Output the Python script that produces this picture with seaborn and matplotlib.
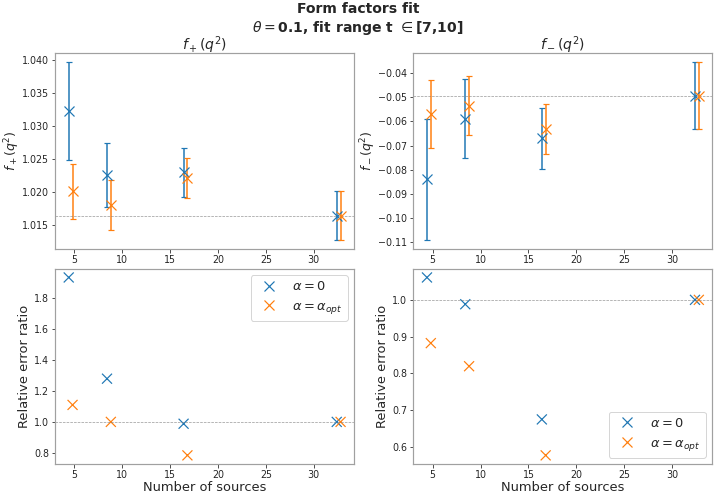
import matplotlib
matplotlib.use("Agg")
import matplotlib.pyplot as plt
from matplotlib.lines import Line2D
import seaborn as sns
import pandas as pd

# number of sources (points are shifted a bit so the two series don't overlap)
n_sources = [4, 8, 16, 32]
shift_a0 = 0.4
shift_opt = 0.8

# f_+(q^2) fit values and errors
fp_a0 = [1.0323, 1.0226, 1.0230, 1.0164]
fp_a0_err = [0.0074, 0.0048, 0.0037, 0.0037]
fp_opt = [1.0201, 1.0180, 1.0221, 1.0164]
fp_opt_err = [0.0042, 0.0038, 0.0030, 0.0037]
fp_ref = 1.01637

# f_-(q^2) fit values and errors
fm_a0 = [-0.0841, -0.0588, -0.0670, -0.0493]
fm_a0_err = [0.0252, 0.0164, 0.0127, 0.0139]
fm_opt = [-0.0569, -0.0534, -0.0632, -0.0493]
fm_opt_err = [0.0140, 0.0123, 0.0103, 0.0139]
fm_ref = -0.0493

# relative error ratios
ratio_fp_a0 = [1.936, 1.280, 0.988, 1.0]
ratio_fp_opt = [1.110, 1.000, 0.783, 1.0]
ratio_fm_a0 = [1.061, 0.988, 0.674, 1.0]
ratio_fm_opt = [0.882, 0.819, 0.576, 1.0]

labels = [r"$\alpha = 0$", r"$\alpha = \alpha_{opt}$"]

sns.set_style("white")
plt.rcParams["font.family"] = ["DejaVu Sans"]
plt.rcParams["mathtext.fontset"] = "dejavusans"

pal = sns.color_palette("tab10")
c_a0, c_opt = pal[0], pal[1]

fig, axes = plt.subplots(2, 2, figsize=(716 / 72, 496 / 72), dpi=72)
fig.subplots_adjust(left=0.077, right=0.995, top=0.8925, bottom=0.064,
                    wspace=0.198, hspace=0.1)

x_a0 = [n + shift_a0 for n in n_sources]
x_opt = [n + shift_opt for n in n_sources]


def top_panel(ax, y0, e0, y1, e1, ref, name):
    ax.errorbar(x_a0, y0, yerr=e0, fmt="x", color=c_a0, ms=10, mew=1.2,
                capsize=3, elinewidth=1.5, capthick=1.2)
    ax.errorbar(x_opt, y1, yerr=e1, fmt="x", color=c_opt, ms=10, mew=1.2,
                capsize=3, elinewidth=1.5, capthick=1.2)
    ax.axhline(ref, color="grey", ls="--", lw=0.7, alpha=0.8)
    ax.set_title(name, fontsize=14, pad=3)
    ax.set_ylabel(name, fontsize=12.5, labelpad=0)


def bottom_panel(ax, r0, r1, loc):
    df = pd.DataFrame({
        "x": x_a0 + x_opt,
        "ratio": r0 + r1,
        "case": [labels[0]] * len(r0) + [labels[1]] * len(r1),
    })
    sns.scatterplot(data=df, x="x", y="ratio", hue="case", palette=[c_a0, c_opt],
                    marker="x", s=100, linewidth=1.2, ax=ax, legend=False)
    ax.axhline(1.0, color="grey", ls="--", lw=0.7, alpha=0.8)
    ax.set_xlabel("Number of sources", fontsize=13, labelpad=1)
    ax.set_ylabel("Relative error ratio", fontsize=13, labelpad=3)
    handles = [Line2D([], [], ls="", marker="x", ms=10, mew=1.2, color=c)
               for c in (c_a0, c_opt)]
    ax.legend(handles, labels, loc=loc, fontsize=13)


top_panel(axes[0, 0], fp_a0, fp_a0_err, fp_opt, fp_opt_err, fp_ref, r"$f_+(q^2)$")
top_panel(axes[0, 1], fm_a0, fm_a0_err, fm_opt, fm_opt_err, fm_ref, r"$f_-(q^2)$")
axes[0, 0].yaxis.set_major_formatter(matplotlib.ticker.FormatStrFormatter("%.3f"))
bottom_panel(axes[1, 0], ratio_fp_a0, ratio_fp_opt, "upper right")
bottom_panel(axes[1, 1], ratio_fm_a0, ratio_fm_opt, "lower right")

for ax in axes.flat:
    for s in ax.spines.values():
        s.set_color("#a0a0a0")
        s.set_linewidth(1.2)
    ax.tick_params(labelsize=9.5, length=3.5, width=0.8, color="#262626",
                   left=True, bottom=True, pad=2.5)
    ax.set_xticks([5, 10, 15, 20, 25, 30])

fig.suptitle("Form factors fit\n" + r"$\theta=$0.1, fit range t $\in$[7,10]",
             fontsize=14, fontweight="bold", y=0.995)

fig.savefig("out.png", dpi=72)
